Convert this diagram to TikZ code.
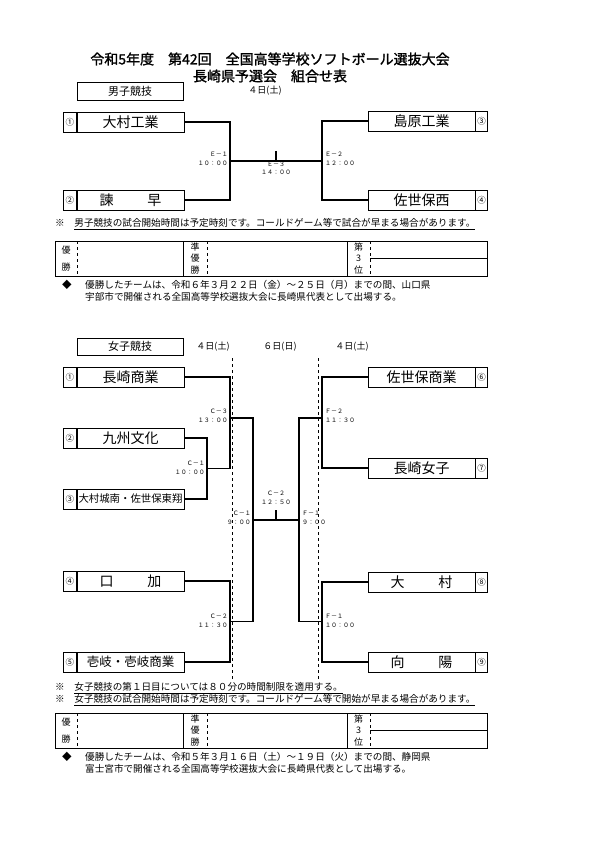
\documentclass[tikz,border=0pt]{standalone}
\usepackage{fontspec}
\setmainfont{Noto Sans CJK JP}
\newfontfamily\titlefont[FakeBold=1.5]{Noto Sans CJK JP}
\usetikzlibrary{positioning}

\begin{document}
\begin{tikzpicture}[x=1pt, y=-1pt,
    team/.style={draw, line width=.6pt, minimum width=107pt, minimum height=20pt,
        inner sep=0pt, font=\fontsize{14}{16}\selectfont},
    numcell/.style={draw, line width=.6pt, minimum width=13pt, minimum height=20pt,
        inner sep=0pt, font=\fontsize{8.5}{9}\selectfont},
    wire/.style={line width=1.1pt},
    mainwire/.style={line width=1.8pt},
    game/.style={inner sep=0pt, font=\fontsize{6}{8.5}\selectfont},
    note/.style={anchor=west, inner sep=0pt, font=\fontsize{9.6}{11}\selectfont},
    day/.style={inner sep=0pt, font=\fontsize{9}{10}\selectfont},
    event/.style={draw, line width=.8pt, minimum width=106pt, minimum height=18pt,
        inner sep=0pt, font=\fontsize{11}{12}\selectfont},
    guide/.style={dashed, line width=.5pt}]

\useasboundingbox[fill=white] (0,0) rectangle (595,842);

% title
\node[font=\titlefont\fontsize{14}{16}\selectfont] (title) at (270,59)
    {令和5年度　第42回　全国高等学校ソフトボール選抜大会};
\node[font=\titlefont\fontsize{14}{16}\selectfont] (subtitle) at (270,76)
    {長崎県予選会　組合せ表};

% boys
\node[event] (boys) at (130,91.5) {男子競技};
\node[day] (bday) at (265,91) {４日(土)};

\node[team] (ba) at (130.5,122) {大村工業};
\node[numcell, left=0pt of ba] (bna) {①};
\node[team] (bb) at (130.5,200) {諫\hspace{2.4em}早};
\node[numcell, left=0pt of bb] (bnb) {②};
\node[team] (bc) at (421.5,121) {島原工業};
\node[numcell, minimum width=12pt, right=0pt of bc] (bnc) {③};
\node[team] (bd) at (421.5,200) {佐世保西};
\node[numcell, minimum width=12pt, right=0pt of bd] (bnd) {④};

\coordinate (e1) at (230,161);
\coordinate (e2) at (322,161);
\coordinate (e3) at (276,151);
\draw[mainwire] (ba.east) -| (e1) |- (bb.east);
\draw[mainwire] (bc.west) -| (e2) |- (bd.west);
\draw[mainwire] (e1) -- (e2);
\draw[mainwire] (e3) -- (e3 |- e1);
\node[game, align=right, anchor=east] (ge1) at (228,159) {Ｅ－１\\１０：００};
\node[game, align=left, anchor=west] (ge2) at (325,159) {Ｅ－２\\１２：００};
\node[game, align=center] (ge3) at (276,168.5) {Ｅ－３\\１４：００};

\node[note] (bnote) at (55,224)
    {※　\underline{男子競技の試合開始時間は予定時刻です。コールドゲーム等で試合が早まる場合があります。}};

% girls
\node[event, minimum height=17pt] (girls) at (130,346.5) {女子競技};
\node[day] (gday1) at (213,347) {４日(土)};
\node[day] (gday2) at (280,347) {６日(日)};
\node[day] (gday3) at (352,347) {４日(土)};

\draw[guide] (232,358) -- (232,680);
\draw[guide] (318,358) -- (318,680);

\node[team] (s1) at (130.5,377) {長崎商業};
\node[numcell, left=0pt of s1] (n1) {①};
\node[team] (s2) at (130.5,438) {九州文化};
\node[numcell, left=0pt of s2] (n2) {②};
\node[team, font=\fontsize{10.4}{12}\selectfont] (s3) at (130.5,499) {大村城南・佐世保東翔};
\node[numcell, left=0pt of s3] (n3) {③};
\node[team] (s4) at (130.5,581) {口\hspace{2.4em}加};
\node[numcell, left=0pt of s4] (n4) {④};
\node[team, font=\fontsize{12.5}{14}\selectfont] (s5) at (130.5,662) {壱岐・壱岐商業};
\node[numcell, left=0pt of s5] (n5) {⑤};

\node[team] (s6) at (421.5,377) {佐世保商業};
\node[numcell, minimum width=12pt, right=0pt of s6] (n6) {⑥};
\node[team] (s7) at (421.5,468) {長崎女子};
\node[numcell, minimum width=12pt, right=0pt of s7] (n7) {⑦};
\node[team] (s8) at (421.5,582) {大\hspace{2.4em}村};
\node[numcell, minimum width=12pt, right=0pt of s8] (n8) {⑧};
\node[team] (s9) at (421.5,662) {向\hspace{2.4em}陽};
\node[numcell, minimum width=12pt, right=0pt of s9] (n9) {⑨};

% day 1
\coordinate (c1) at (207,468.5);
\coordinate (c3) at (230,418);
\coordinate (c2) at (230,621.5);
\coordinate (f2) at (322,418);
\coordinate (f1) at (322,621.5);
\draw[wire] (s2.east) -| (c1) |- (s3.east);
\draw[wire] (s1.east) -| (c3) |- (c1);
\draw[wire] (s4.east) -| (c2) |- (s5.east);
\draw[wire] (s6.west) -| (f2) |- (s7.west);
\draw[wire] (s8.west) -| (f1) |- (s9.west);

% day 2
\coordinate (d1) at (253,520);
\coordinate (d2) at (299,520);
\coordinate (fin) at (276,510);
\draw[mainwire] (c3) -| (d1) |- (c2);
\draw[mainwire] (f2) -| (d2) |- (f1);
\draw[mainwire] (d1) -- (d2);
\draw[mainwire] (fin) -- (fin |- d1);

\node[game, align=right, anchor=east] (gc1) at (205,468) {Ｃ－１\\１０：００};
\node[game, align=right, anchor=east] (gc3) at (228,416) {Ｃ－３\\１３：００};
\node[game, align=right, anchor=east] (gc2) at (228,621) {Ｃ－２\\１１：３０};
\node[game, align=left, anchor=west] (gf2) at (325,416) {Ｆ－２\\１１：３０};
\node[game, align=left, anchor=west] (gf1) at (325,621) {Ｆ－１\\１０：００};
\node[game, align=right, anchor=east] (gd1) at (251,518) {Ｃ－１\\９：００};
\node[game, align=left, anchor=west] (gd2) at (302,518) {Ｆ－１\\９：００};
\node[game, align=center] (gfin) at (276,498) {Ｃ－２\\１２：５０};

\node[note] (gnote1) at (55,688)
    {※　\underline{女子競技の第１日目については８０分の時間制限を適用する。}};
\node[note] (gnote2) at (55,700)
    {※　\underline{女子競技の試合開始時間は予定時刻です。コールドゲーム等で開始が早まる場合があります。}};

% result tables
\foreach \ty/\tn in {241/b, 713/g} {
    \draw[line width=.8pt] (55,\ty) rectangle (487,\ty+35);
    \draw[guide] (77,\ty) -- (77,\ty+35);
    \draw[line width=.6pt] (183,\ty) -- (183,\ty+35);
    \draw[guide] (207,\ty) -- (207,\ty+35);
    \draw[line width=.6pt] (347,\ty) -- (347,\ty+35);
    \draw[guide] (370,\ty) -- (370,\ty+35);
    \draw[line width=.6pt] (370,\ty+17.5) -- (487,\ty+17.5);
    \node[align=center, inner sep=0pt, font=\fontsize{9}{17}\selectfont]
        (win\tn) at (66,\ty+17.5) {優\\勝};
    \node[align=center, inner sep=0pt, font=\fontsize{9}{11.5}\selectfont]
        (second\tn) at (195,\ty+17.5) {準\\優\\勝};
    \node[align=center, inner sep=0pt, font=\fontsize{9}{11.5}\selectfont]
        (third\tn) at (358.5,\ty+17.5) {第\\3\\位};
}

\node[note, anchor=center] (bmark) at (67,285) {◆};
\node[note] (bwin1) at (85,285)
    {優勝したチームは、令和６年３月２２日（金）～２５日（月）までの間、山口県};
\node[note] (bwin2) at (85,297)
    {宇部市で開催される全国高等学校選抜大会に長崎県代表として出場する。};
\node[note, anchor=center] (gmark) at (67,757) {◆};
\node[note] (gwin1) at (85,757)
    {優勝したチームは、令和５年３月１６日（土）～１９日（火）までの間、静岡県};
\node[note] (gwin2) at (85,769)
    {富士宮市で開催される全国高等学校選抜大会に長崎県代表として出場する。};
\end{tikzpicture}
\end{document}
